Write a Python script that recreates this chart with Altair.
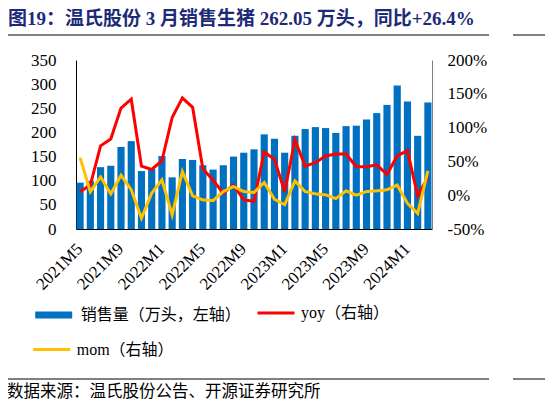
import altair as alt
import pandas as pd

months = ["2021M5", "2021M6", "2021M7", "2021M8", "2021M9", "2021M10", "2021M11", "2021M12",
          "2022M1", "2022M2", "2022M3", "2022M4", "2022M5", "2022M6", "2022M7", "2022M8",
          "2022M9", "2022M10", "2022M11", "2022M12", "2023M1", "2023M2", "2023M3", "2023M4",
          "2023M5", "2023M6", "2023M7", "2023M8", "2023M9", "2023M10", "2023M11", "2023M12",
          "2024M1", "2024M2", "2024M3"]
sales = [96, 100, 128, 131, 170, 182, 120, 124, 151, 107, 145, 143, 132, 123, 132, 150,
         158, 165, 196, 187, 158, 193, 207, 211, 209, 199, 213, 214, 227, 240, 257, 297,
         264, 193, 262.05]
yoy = [5, 15, 73, 83, 129, 142, 43, 38, 51, 115, 144, 130, 39, 22, 3, 15,
       -7, -9, 64, 53, 5, 82, 43, 48, 58, 61, 61, 42, 42, 45, 31, 58,
       66, -1, 26.4]
mom = [55.6, 5, 27, 2, 29.5, 8, -34, 3, 22.6, -29, 35, -1, -7, -8, 5.4, 12.8,
       5.4, 4, 18.7, -6, -14, 21, 5.4, 2, 0.5, -5, 6.4, 0, 5.4, 6.4, 8, 15,
       -12, -27, 36]
tick_labels = ["2021M5", "2021M9", "2022M1", "2022M5", "2022M9", "2023M1", "2023M5", "2023M9", "2024M1"]
left_ticks = [0, 50, 100, 150, 200, 250, 300, 350]
right_ticks = [-50, 0, 50, 100, 150, 200]

S_BAR = "销售量（万头，左轴）"
S_YOY = "yoy（右轴）"
S_MOM = "mom（右轴）"
TITLE = "图19：温氏股份 3 月销售生猪 262.05 万头，同比+26.4%"
SOURCE = "数据来源：温氏股份公告、开源证券研究所"

BLUE, RED, YELLOW = "#0070C0", "#FF0000", "#FFC000"
SERIF = "Liberation Serif, Noto Sans CJK SC"
CJK = "Noto Sans CJK SC, Liberation Serif"

bar_df = pd.DataFrame({"month": months, "sales": sales, "s_bar": S_BAR})
yoy_df = pd.DataFrame({"month": months, "value": yoy, "s_yoy": S_YOY})
mom_df = pd.DataFrame({"month": months, "value": mom, "s_mom": S_MOM})

x_enc = alt.X("month:N", sort=months,
              scale=alt.Scale(paddingInner=0.3, paddingOuter=0.05),
              axis=alt.Axis(values=tick_labels, labelAngle=315, labelAlign="right",
                            labelBaseline="middle", labelPadding=17, ticks=False,
                            domainColor="black", labelColor="black", labelFont=SERIF,
                            labelFontSize=17, title=None))


def make_legend(lx, ly, color, width):
    return alt.Legend(title=None, orient="none", legendX=lx, legendY=ly, padding=0,
                      symbolType="stroke", symbolSize=1369, symbolStrokeWidth=width,
                      symbolStrokeColor=color, symbolFillColor=color, symbolOpacity=1,
                      labelFont=SERIF, labelFontSize=16, labelOffset=5, labelLimit=400,
                      labelColor="black")


bars = alt.Chart(bar_df).mark_bar(opacity=1).encode(
    x=x_enc,
    y=alt.Y("sales:Q", scale=alt.Scale(domain=[0, 350], nice=False),
            axis=alt.Axis(values=left_ticks, title=None, ticks=False, labelPadding=20,
                          domainColor="black", grid=False, labelFontSize=17,
                          labelFont=SERIF, labelColor="black")),
    fill=alt.Fill("s_bar:N", scale=alt.Scale(domain=[S_BAR], range=[BLUE]),
                  legend=make_legend(-44.3, 233, BLUE, 7)),
)

y_right = alt.Y("value:Q", scale=alt.Scale(domain=[-50, 200], nice=False),
                axis=alt.Axis(orient="right", values=right_ticks, title=None, ticks=False,
                              labelPadding=15, domainColor="#808080", grid=False,
                              labelFontSize=17, labelFont=SERIF, labelColor="black",
                              labelExpr="datum.value + '%'"))

yoy_line = alt.Chart(yoy_df).mark_line(strokeWidth=3).encode(
    x=x_enc, y=y_right,
    stroke=alt.Stroke("s_yoy:N", scale=alt.Scale(domain=[S_YOY], range=[RED]),
                      legend=make_legend(180, 233, RED, 3)),
)
mom_line = alt.Chart(mom_df).mark_line(strokeWidth=3, color=YELLOW).encode(
    x=x_enc, y=y_right,
    strokeDash=alt.StrokeDash("s_mom:N", scale=alt.Scale(domain=[S_MOM], range=[[1, 0]]),
                              legend=make_legend(-44.3, 269.5, YELLOW, 3)),
)

dummy = pd.DataFrame({"t": [TITLE], "s": [SOURCE]})
title = alt.Chart(dummy).mark_text(align="left", baseline="alphabetic", font=SERIF,
                                   fontSize=19, fontWeight="bold", color="#1c2a78").encode(
    x=alt.value(-68), y=alt.value(-35), text="t:N")
source = alt.Chart(dummy).mark_text(align="left", baseline="alphabetic", font=CJK,
                                    fontSize=16.5, color="black").encode(
    x=alt.value(-69), y=alt.value(336.5), text="s:N")
rule_top = alt.Chart(dummy).mark_rule(color="black", strokeWidth=1).encode(
    x=alt.value(-71), x2=alt.value(413), y=alt.value(-25))
rule_bot = alt.Chart(dummy).mark_rule(color="black", strokeWidth=1).encode(
    x=alt.value(-71), x2=alt.value(413), y=alt.value(319))
rule_top2 = alt.Chart(dummy).mark_rule(color="black", strokeWidth=1).encode(
    x=alt.value(437), x2=alt.value(470), y=alt.value(-25))
rule_bot2 = alt.Chart(dummy).mark_rule(color="black", strokeWidth=1).encode(
    x=alt.value(437), x2=alt.value(470), y=alt.value(319))

lines = alt.layer(yoy_line, mom_line)

chart = alt.layer(bars, lines, title, source, rule_top, rule_bot, rule_top2, rule_bot2).resolve_scale(
    y="independent"
).properties(
    width=356, height=169,
    autosize=alt.AutoSizeParams(type="none"),
    padding={"left": 68, "top": 52, "right": 113, "bottom": 172},
    background="white",
).configure_view(strokeWidth=0)

chart.save("out.html", embed_options={"renderer": "svg", "actions": False})
